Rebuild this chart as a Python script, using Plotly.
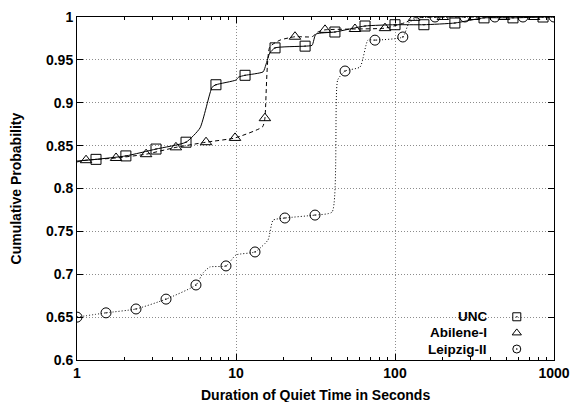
import plotly.graph_objects as go

# ---- data -------------------------------------------------------------
# Sampled points (drawn with symbols) for each trace
unc_x = [1.317, 2.03, 3.14, 4.85, 7.48, 11.4, 17.6, 27.2, 41.9, 64.8, 100, 152, 238, 363, 552, 853]
unc_y = [0.834, 0.838, 0.846, 0.854, 0.921, 0.932, 0.964, 0.966, 0.9825, 0.9895, 0.991, 0.991, 0.993, 0.999, 0.999, 1.0]
# Additional curve knots between symbols
unc_cx = [1.0, 5.94, 7.07, 10.0, 10.4, 14.8, 15.4, 16.3, 30.1, 31.8, 1000]
unc_cy = [0.832, 0.8706, 0.918, 0.9265, 0.930, 0.936, 0.944, 0.958, 0.967, 0.980, 1.0]

abi_x = [1.14, 1.76, 2.72, 4.19, 6.48, 9.86, 15.2, 23.5, 36.3, 56.0, 86.5, 132, 200, 314, 485, 749]
abi_y = [0.833, 0.8356, 0.840, 0.848, 0.854, 0.859, 0.882, 0.977, 0.985, 0.986, 0.987, 0.999, 1.0, 1.0, 1.0, 1.0]
abi_cx = [1.0, 14.7, 16.3, 18.9, 30.1, 32.7, 118, 1000]
abi_cy = [0.831, 0.872, 0.965, 0.973, 0.977, 0.9825, 0.994, 1.0]

lei_x = [1.0, 1.522, 2.35, 3.63, 5.60, 8.65, 13.17, 20.3, 31.4, 48.5, 74.8, 112, 178.5, 275, 425, 638, 1000]
lei_y = [0.650, 0.655, 0.6595, 0.671, 0.6875, 0.7097, 0.726, 0.7656, 0.769, 0.937, 0.973, 0.9767, 1.0, 1.0, 1.0, 1.0, 1.0]
lei_cx = [6.2, 6.85, 10.0, 15.9, 17.1, 40.2, 43.6, 60.3, 67.5, 123, 144]
lei_cy = [0.7015, 0.7085, 0.7225, 0.740, 0.763, 0.7726, 0.9265, 0.9417, 0.973, 0.994, 0.999]

x_ticks = [1, 10, 100, 1000]
x_ticktext = ["1", "10", "100", "1000"]
y_ticks = [0.6, 0.65, 0.7, 0.75, 0.8, 0.85, 0.9, 0.95, 1.0]
y_ticktext = ["0.6", "0.65", "0.7", "0.75", "0.8", "0.85", "0.9", "0.95", "1"]

series_names = ["UNC", "Abilene-I", "Leipzig-II"]

FONT = "Liberation Sans, Arial, Helvetica, sans-serif"
FS = 14
KEY_FS = 13.5


def merged(px, py, cx, cy):
    pts = sorted(zip(list(px) + list(cx), list(py) + list(cy)))
    return [p[0] for p in pts], [p[1] for p in pts]


series = [
    (unc_x, unc_y, unc_cx, unc_cy, "solid", "square-open-dot", 10),
    (abi_x, abi_y, abi_cx, abi_cy, "4px,3px", "triangle-up-open", 10),
    (lei_x, lei_y, lei_cx, lei_cy, "1px,2px", "circle-open-dot", 10),
]

fig = go.Figure()

for (px, py, cx, cy, dash, sym, size), name in zip(series, series_names):
    lx, ly = merged(px, py, cx, cy)
    fig.add_trace(go.Scatter(
        x=lx, y=ly, mode="lines",
        line=dict(color="black", width=1, dash=dash, shape="spline", smoothing=0.5),
        showlegend=False, hoverinfo="skip",
    ))
    fig.add_trace(go.Scatter(
        x=px, y=py, mode="markers", name=name,
        marker=dict(symbol=sym, size=size, color="black", line=dict(width=1, color="black")),
        showlegend=False,
    ))

# ---- key (text right-aligned, symbol to the right) --------------------
key_y = [0.126, 0.079, 0.032]
key_sym = ["square-open-dot", "triangle-up-open", "circle-open-dot"]
fig.add_trace(go.Scatter(
    x=[0.922] * 3, y=key_y, mode="markers", xaxis="x2", yaxis="y2",
    marker=dict(symbol=key_sym, size=8, color="black", line=dict(width=1, color="black")),
    showlegend=False, hoverinfo="skip",
))
for name, ky in zip(series_names, key_y):
    fig.add_annotation(
        x=0.862, y=ky, xref="x2", yref="y2", text=name, showarrow=False,
        xanchor="right", yanchor="middle", borderpad=0,
        font=dict(family=FONT, size=KEY_FS, color="black", weight="bold"),
    )

fig.add_shape(
    type="rect", xref="paper", yref="paper", x0=0.677, x1=0.987, y0=0.008, y1=0.164,
    fillcolor="white", line=dict(width=0), layer="between",
)

# axis titles
fig.add_annotation(
    x=0.5, y=-0.102, xref="paper", yref="paper", text="Duration of Quiet Time in Seconds",
    showarrow=False, xanchor="center", yanchor="middle",
    font=dict(family=FONT, size=FS, color="black", weight="bold"),
)
fig.add_annotation(
    x=-0.128, y=0.5, xref="paper", yref="paper", text="Cumulative Probability",
    showarrow=False, xanchor="center", yanchor="middle", textangle=-90,
    font=dict(family=FONT, size=FS, color="black", weight="bold"),
)

axis_common = dict(
    showline=True, linecolor="black", linewidth=1, mirror="allticks",
    ticks="inside", ticklen=6, tickcolor="black", tickwidth=1,
    showgrid=True, gridcolor="#8c8c8c", gridwidth=1, griddash="1px,2px",
    zeroline=False, automargin=False,
    tickfont=dict(family=FONT, size=FS, color="black", weight="bold"),
)

fig.update_layout(
    width=572, height=402,
    margin=dict(l=77, r=18, t=17, b=42),
    paper_bgcolor="white", plot_bgcolor="white",
    font=dict(family=FONT, color="black"),
    xaxis=dict(
        type="log", range=[0, 3],
        tickmode="array", tickvals=x_ticks, ticktext=x_ticktext,
        minor=dict(ticks="inside", ticklen=3, tickcolor="black", showgrid=False,
                   tickvals=[m * d for d in (1, 10, 100) for m in range(2, 10)]),
        **axis_common,
    ),
    yaxis=dict(
        range=[0.6, 1.0],
        tickmode="array", tickvals=y_ticks, ticktext=y_ticktext,
        **axis_common,
    ),
    xaxis2=dict(overlaying="x", range=[0, 1], visible=False),
    yaxis2=dict(overlaying="y", range=[0, 1], visible=False),
    showlegend=False,
)

fig.write_html("out.html")
